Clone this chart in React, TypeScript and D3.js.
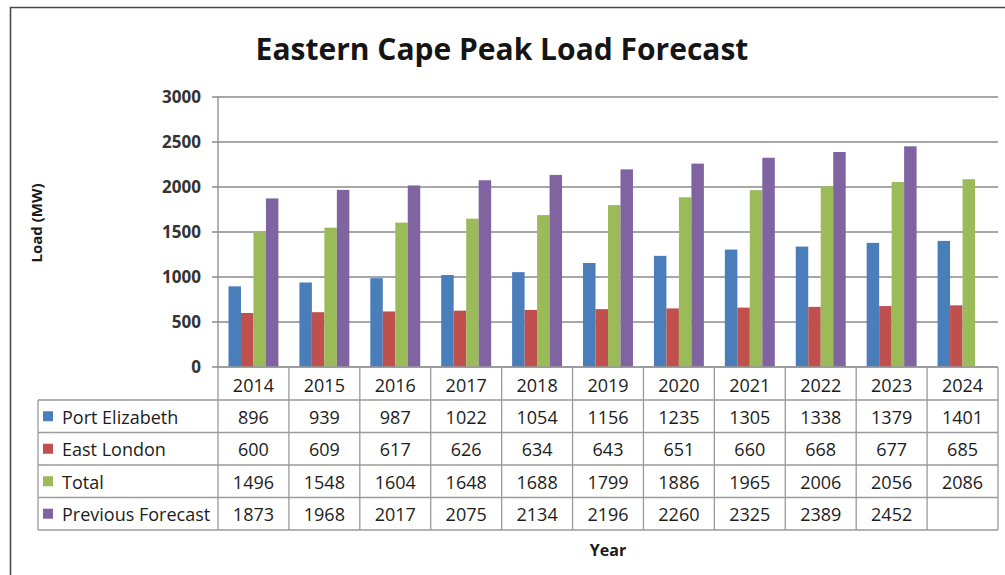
import React from "react";
import * as d3 from "d3";

const years = ["2014", "2015", "2016", "2017", "2018", "2019", "2020", "2021", "2022", "2023", "2024"];
const portElizabeth = [896, 939, 987, 1022, 1054, 1156, 1235, 1305, 1338, 1379, 1401];
const eastLondon = [600, 609, 617, 626, 634, 643, 651, 660, 668, 677, 685];
const total = [1496, 1548, 1604, 1648, 1688, 1799, 1886, 1965, 2006, 2056, 2086];
const previousForecast: (number | null)[] = [1873, 1968, 2017, 2075, 2134, 2196, 2260, 2325, 2389, 2452, null];
const yTicks = [0, 500, 1000, 1500, 2000, 2500, 3000];

const seriesNames = ["Port Elizabeth", "East London", "Total", "Previous Forecast"];
const seriesColors = ["#4a7ebb", "#c0504d", "#9bbb59", "#8064a2"];

const W = 1005;
const H = 575;
const FONT = "'Open Sans', Lato, sans-serif";

export default function App() {
  const series: (number | null)[][] = [portElizabeth, eastLondon, total, previousForecast];

  const left = 218;
  const right = 998;
  const top = 97;
  const bottom = 367;

  const x = d3.scaleBand<string>().domain(years).range([left, right]).paddingInner(0).paddingOuter(0);
  const inner = d3
    .scaleBand<number>()
    .domain(d3.range(series.length))
    .range([0, x.bandwidth()])
    .paddingOuter(0.84)
    .paddingInner(0);
  const y = d3.scaleLinear().domain([0, 3000]).range([bottom, top]);

  const headerBottom = 400;
  const rowH = 32.5;
  const labelLeft = 38;
  const tableBottom = headerBottom + rowH * series.length;
  const gridColor = "#8a8a8a";
  const tableColor = "#9a9a9a";
  const textColor = "#1c1c1c";

  return (
    <svg
      width={W}
      height={H}
      style={{ position: "absolute", left: 0, top: 0, background: "#fff" }}
      fontFamily={FONT}
    >
      <rect x={0} y={0} width={W} height={H} fill="#fff" />
      {/* frame */}
      <path d={`M10.5,${H} V7.5 H${W}`} fill="none" stroke="#4a4a4a" strokeWidth={1.6} />

      <text x={502} y={60} textAnchor="middle" fontSize={30} fontWeight={700} fill="#151515">
        Eastern Cape Peak Load Forecast
      </text>

      {/* gridlines and y ticks */}
      {yTicks.map((t) => (
        <g key={t}>
          <line x1={left - 6} x2={right} y1={y(t)} y2={y(t)} stroke={gridColor} strokeWidth={1.3} />
          <text x={201} y={y(t) + 6} textAnchor="end" fontSize={17} fontWeight={700} fill="#333">
            {t}
          </text>
        </g>
      ))}
      <line x1={left} x2={left} y1={top} y2={bottom} stroke={gridColor} strokeWidth={1.3} />

      <text
        transform={`translate(42,${223}) rotate(-90)`}
        textAnchor="middle"
        fontSize={15}
        fontWeight={700}
        fill="#1a1a1a"
      >
        Load (MW)
      </text>

      {/* bars */}
      {series.map((vals, si) =>
        vals.map((v, i) =>
          v == null ? null : (
            <rect
              key={`${si}-${i}`}
              x={(x(years[i]) as number) + (inner(si) as number)}
              y={y(v)}
              width={inner.bandwidth()}
              height={bottom - y(v)}
              fill={seriesColors[si]}
            />
          )
        )
      )}

      {/* data table */}
      <g stroke={tableColor} strokeWidth={1.3} fill="none">
        <line x1={left} x2={right} y1={bottom} y2={bottom} />
        {d3.range(series.length + 1).map((r) => (
          <line
            key={r}
            x1={labelLeft}
            x2={right}
            y1={headerBottom + r * rowH}
            y2={headerBottom + r * rowH}
          />
        ))}
        <line x1={labelLeft} x2={labelLeft} y1={headerBottom} y2={tableBottom} />
        {years.map((yr) => (
          <line key={yr} x1={x(yr) as number} x2={x(yr) as number} y1={bottom} y2={tableBottom} />
        ))}
        <line x1={right} x2={right} y1={bottom} y2={tableBottom} />
      </g>

      {years.map((yr) => (
        <text
          key={yr}
          x={(x(yr) as number) + x.bandwidth() / 2}
          y={bottom + 25}
          textAnchor="middle"
          fontSize={18}
          fill={textColor}
        >
          {yr}
        </text>
      ))}

      {series.map((vals, si) => {
        const cy = headerBottom + si * rowH + rowH / 2;
        return (
          <g key={si}>
            <rect x={43} y={cy - 5} width={10} height={10} fill={seriesColors[si]} />
            <text x={62} y={cy + 7.5} fontSize={18} fill={textColor}>
              {seriesNames[si]}
            </text>
            {vals.map((v, i) =>
              v == null ? null : (
                <text
                  key={i}
                  x={(x(years[i]) as number) + x.bandwidth() / 2}
                  y={cy + 7.5}
                  textAnchor="middle"
                  fontSize={18}
                  fill={textColor}
                >
                  {v}
                </text>
              )
            )}
          </g>
        );
      })}

      <text x={608} y={556} textAnchor="middle" fontSize={16} fontWeight={700} fill="#1a1a1a">
        Year
      </text>
    </svg>
  );
}
